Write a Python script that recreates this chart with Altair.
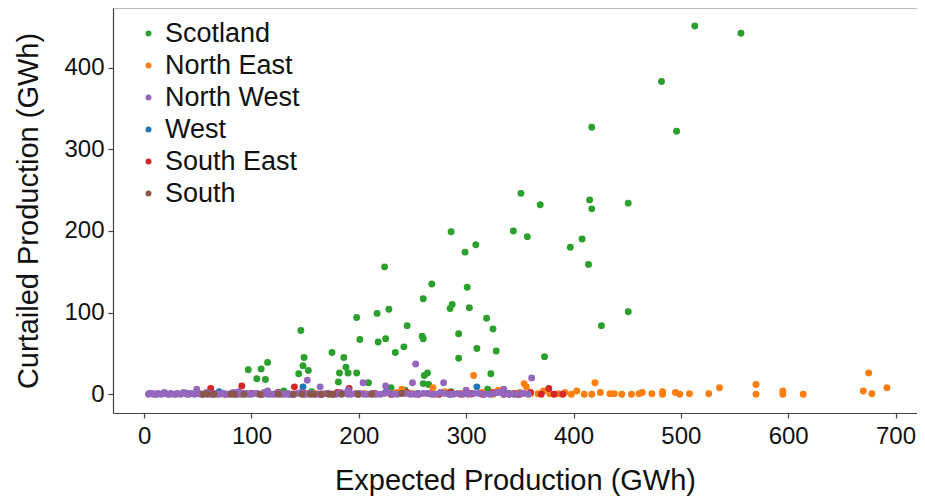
import altair as alt
import pandas as pd

REGIONS = ["Scotland", "North East", "North West", "West", "South East", "South"]
COLORS = ["#2ca02c", "#ff7f0e", "#9467bd", "#1f77b4", "#d62728", "#8c564b"]
DRAW_ORDER = [0, 1, 4, 2, 3, 5]  # z-order per region (same order as REGIONS)
X_TICKS = [0, 100, 200, 300, 400, 500, 600, 700]
Y_TICKS = [0, 100, 200, 300, 400]

SCOTLAND = [(513, 451), (556, 442), (482, 383), (417, 327), (496, 322), (351, 246), (415, 238),
            (369, 232), (417, 227), (451, 234), (286, 199), (309, 183), (344, 200), (357, 193),
            (397, 180), (408, 190), (414, 159), (299, 174), (224, 156), (268, 135), (301, 131),
            (260, 117), (228, 104), (217, 99), (198, 94), (287, 110), (285, 105), (303, 106),
            (451, 101), (426, 84), (319, 93), (325, 80), (245, 84), (146, 78), (293, 74),
            (201, 67), (218, 64), (225, 68), (259, 71), (260, 68), (242, 58), (234, 51),
            (310, 56), (328, 53), (175, 51), (186, 45), (149, 45), (293, 44), (373, 46),
            (115, 39), (109, 31), (97, 30), (105, 19), (113, 18), (182, 26), (188, 33),
            (190, 26), (198, 26), (148, 35), (153, 29), (144, 25), (209, 14), (181, 15),
            (323, 25), (261, 23), (264, 26), (260, 13), (265, 12), (286, 3), (243, 5),
            (130, 4), (230, 8), (156, 3), (320, 6)]

NORTH_EAST = [(420, 14), (536, 8), (570, 12), (570, 0), (595, 4), (595, 0), (614, 0), (675, 26),
              (670, 4), (678, 0.5), (692, 8), (307, 23), (356, 9), (403, 4), (410, 0), (417, 0),
              (425, 2), (434, 0.5), (438, 0.5), (445, 0), (454, 0), (461, 0.5), (464, 2),
              (473, 0.5), (483, 3), (483, 0), (495, 2), (499, 0), (508, 0.5), (526, 0.5),
              (367, 0.5), (378, 0.5), (386, 0.5), (354, 13), (269, 8), (160, 1), (175, 0),
              (190, 2), (205, 1), (215, 0), (235, 2), (250, 1), (270, 0), (280, 3), (295, 1),
              (305, 0), (315, 2), (325, 0), (335, 1), (345, 0), (350, 2), (360, 1), (372, 4),
              (392, 2), (398, 0), (240, 6), (330, 5)]

NORTH_WEST = [(253, 37), (250, 14), (279, 14), (361, 20), (152, 17), (204, 14), (225, 10),
              (164, 9), (49, 6), (335, 6), (300, 5), (115, 4), (88, 3), (190, 5),
              (4, 0), (7, 1), (10, 0), (13, 1), (16, 0), (19, 2), (22, 0), (25, 1), (28, 0),
              (31, 1), (34, 0), (37, 2), (40, 0), (44, 1), (47, 0), (51, 1), (55, 0), (58, 2),
              (62, 0), (66, 1), (70, 0), (74, 1), (78, 0), (83, 2), (87, 0), (92, 1), (97, 0),
              (102, 1), (107, 0), (112, 2), (118, 0), (123, 1), (128, 0), (134, 1), (140, 0),
              (146, 2), (151, 0), (157, 1), (163, 0), (169, 1), (176, 0), (183, 2), (190, 0),
              (197, 1), (205, 0), (212, 1), (220, 0), (228, 2), (236, 0), (244, 1), (252, 0),
              (260, 1), (268, 0), (276, 2), (284, 0), (292, 1), (302, 0), (312, 1), (322, 0),
              (330, 2), (340, 0), (350, 1), (358, 0),
              (5, 1), (9, 0), (12, 0), (18, 1), (24, 0), (30, 0), (36, 1), (42, 0), (49, 1),
              (53, 0), (60, 1), (64, 0), (68, 0), (72, 1), (76, 0), (81, 1), (85, 0), (90, 0),
              (95, 1), (100, 0), (105, 1), (110, 0), (115, 0), (121, 0), (126, 1), (131, 0),
              (137, 0), (143, 1), (149, 0), (154, 1), (160, 0), (166, 0), (172, 1), (179, 0),
              (186, 1), (193, 0), (201, 1), (208, 0), (216, 0), (224, 1), (232, 0), (240, 1),
              (248, 0), (256, 0), (264, 1), (272, 0), (280, 1), (288, 0), (297, 0), (307, 1),
              (317, 0), (326, 1), (335, 0), (345, 0), (354, 1)]

WEST = [(310, 9), (148, 9), (70, 3), (100, 1), (135, 0), (180, 1), (225, 2), (255, 1),
        (300, 2), (340, 1), (348, 0), (285, 0), (40, 1)]

SOUTH_EAST = [(60, 2), (75, 0), (91, 10), (62, 7), (100, 1), (110, 0), (125, 2), (140, 9),
              (150, 1), (165, 0), (180, 2), (191, 7), (200, 0), (215, 1), (230, 0), (245, 2),
              (255, 0), (265, 1), (275, 0), (285, 2), (295, 0), (305, 1), (315, 0), (325, 2),
              (335, 0), (340, 0), (345, 1), (350, 0), (360, 2), (370, 0), (377, 7), (382, 0),
              (390, 0)]

SOUTH = [(55, 0), (59, 0), (65, 0), (81, 0), (84, 0), (93, 0), (108, 0), (125, 0), (139, 0),
         (147, 0), (155, 0), (158, 0), (165, 0), (172, 0), (176, 0), (184, 0), (199, 0),
         (212, 0), (240, 1)]

SERIES = [SCOTLAND, NORTH_EAST, NORTH_WEST, WEST, SOUTH_EAST, SOUTH]

rows = []
for name, pts, z in zip(REGIONS, SERIES, DRAW_ORDER):
    for x, y in pts:
        rows.append({"expected": x, "curtailed": y, "region": name, "z": z})
df = pd.DataFrame(rows)

FONT = "Liberation Sans"
W, H = 804, 405

points = alt.Chart(df).mark_circle(size=48, opacity=1).encode(
    x=alt.X("expected:Q", scale=alt.Scale(domain=[-29, 720], nice=False, zero=False),
            axis=alt.Axis(title="Expected Production (GWh)", values=X_TICKS, grid=False,
                          labelPadding=6, titlePadding=18)),
    y=alt.Y("curtailed:Q", scale=alt.Scale(domain=[-23, 473], nice=False, zero=False),
            axis=alt.Axis(title="Curtailed Production (GWh)", values=Y_TICKS, grid=False,
                          labelPadding=4, titlePadding=20)),
    color=alt.Color("region:N", scale=alt.Scale(domain=REGIONS, range=COLORS),
                    legend=alt.Legend(title=None, orient="none", legendX=22, legendY=12,
                                      labelFontSize=27, labelFont=FONT, labelColor="#111",
                                      symbolType="circle", symbolSize=36, rowPadding=4,
                                      labelOffset=3, padding=0)),
    order=alt.Order("z:Q"),
)

top = alt.Chart(pd.DataFrame({"a": [0]})).mark_rule(color="#777", strokeWidth=1.2).encode(
    x=alt.value(0), x2=alt.value(W), y=alt.value(0)
)

chart = alt.layer(points, top).properties(
    width=W, height=H,
    autosize=alt.AutoSizeParams(type="none"),
    padding={"left": 105, "top": 0, "right": 0, "bottom": 84},
).configure_view(strokeWidth=0).configure_axis(
    labelFont=FONT, titleFont=FONT, labelFontSize=24, titleFontSize=29,
    titleFontWeight="normal", labelColor="#111", titleColor="#111",
    domainColor="#444", tickColor="#444", domainWidth=1.2, tickWidth=1.2, tickSize=5,
)

chart.save("out.html", embed_options={"renderer": "svg", "actions": False})
